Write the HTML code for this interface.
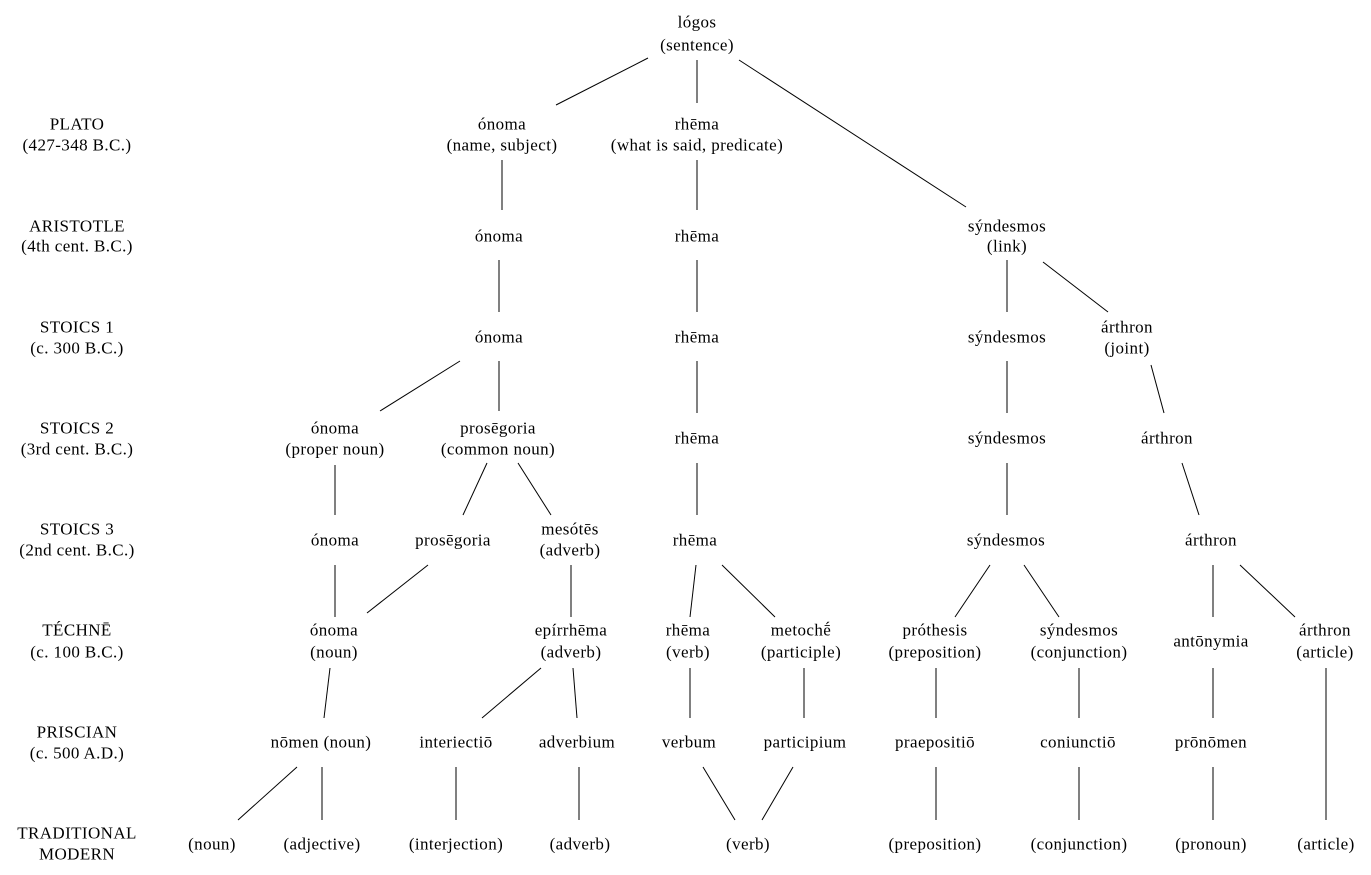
<!DOCTYPE html>
<html><head><meta charset="utf-8"><style>
html,body{margin:0;padding:0;background:#fff;}
svg{display:block;}
text{font-family:"Liberation Serif",serif;font-size:17px;letter-spacing:0.4px;fill:#000;text-anchor:middle;dominant-baseline:central;}
line{stroke:#000;stroke-width:1;}
</style></head><body>
<svg width="1371" height="875" viewBox="0 0 1371 875" xmlns="http://www.w3.org/2000/svg">
<g>
<line x1="648" y1="58" x2="556" y2="105"/>
<line x1="697" y1="60" x2="697" y2="103"/>
<line x1="739" y1="60" x2="966" y2="207"/>
<line x1="502" y1="160" x2="502" y2="210"/>
<line x1="697" y1="160" x2="697" y2="210"/>
<line x1="499" y1="260" x2="499" y2="312"/>
<line x1="697" y1="260" x2="697" y2="312"/>
<line x1="1007" y1="260" x2="1007" y2="312"/>
<line x1="1043" y1="262" x2="1108" y2="312"/>
<line x1="460" y1="361" x2="380" y2="411"/>
<line x1="499" y1="361" x2="499" y2="411"/>
<line x1="697" y1="361" x2="697" y2="413"/>
<line x1="1007" y1="361" x2="1007" y2="413"/>
<line x1="1151" y1="365" x2="1164" y2="413"/>
<line x1="335" y1="465" x2="335" y2="515"/>
<line x1="487" y1="463" x2="463" y2="515"/>
<line x1="518" y1="463" x2="551" y2="515"/>
<line x1="697" y1="463" x2="697" y2="515"/>
<line x1="1007" y1="463" x2="1007" y2="515"/>
<line x1="1182" y1="463" x2="1199" y2="515"/>
<line x1="335" y1="565" x2="335" y2="617"/>
<line x1="428" y1="565" x2="367" y2="613"/>
<line x1="571" y1="565" x2="571" y2="617"/>
<line x1="696" y1="565" x2="690" y2="617"/>
<line x1="722" y1="565" x2="775" y2="617"/>
<line x1="990" y1="565" x2="955" y2="617"/>
<line x1="1024" y1="565" x2="1059" y2="617"/>
<line x1="1213" y1="565" x2="1213" y2="617"/>
<line x1="1240" y1="565" x2="1295" y2="617"/>
<line x1="330" y1="668" x2="324" y2="718"/>
<line x1="541" y1="668" x2="482" y2="718"/>
<line x1="573" y1="668" x2="577" y2="718"/>
<line x1="690" y1="668" x2="690" y2="718"/>
<line x1="804" y1="668" x2="804" y2="718"/>
<line x1="936" y1="668" x2="936" y2="718"/>
<line x1="1079" y1="668" x2="1079" y2="718"/>
<line x1="1213" y1="668" x2="1213" y2="718"/>
<line x1="1326" y1="668" x2="1326" y2="820"/>
<line x1="297" y1="767" x2="238" y2="820"/>
<line x1="322" y1="767" x2="322" y2="820"/>
<line x1="456" y1="767" x2="456" y2="820"/>
<line x1="579" y1="767" x2="579" y2="820"/>
<line x1="703" y1="767" x2="735" y2="820"/>
<line x1="793" y1="767" x2="762" y2="820"/>
<line x1="936" y1="767" x2="936" y2="820"/>
<line x1="1079" y1="767" x2="1079" y2="820"/>
<line x1="1213" y1="767" x2="1213" y2="820"/>
</g>
<g>
<text x="77" y="124">PLATO</text><text x="77" y="145">(427-348 B.C.)</text>
<text x="77" y="226">ARISTOTLE</text><text x="77" y="246">(4th cent. B.C.)</text>
<text x="77" y="327">STOICS 1</text><text x="77" y="348">(c. 300 B.C.)</text>
<text x="77" y="428">STOICS 2</text><text x="77" y="449">(3rd cent. B.C.)</text>
<text x="77" y="529">STOICS 3</text><text x="77" y="550">(2nd cent. B.C.)</text>
<text x="77" y="630">TÉCHNĒ</text><text x="77" y="652">(c. 100 B.C.)</text>
<text x="77" y="732">PRISCIAN</text><text x="77" y="753">(c. 500 A.D.)</text>
<text x="77" y="833">TRADITIONAL</text><text x="77" y="854">MODERN</text>

<text x="697" y="22">lógos</text><text x="697" y="45">(sentence)</text>

<text x="502" y="124">ónoma</text><text x="502" y="145">(name, subject)</text>
<text x="697" y="124">rhēma</text><text x="697" y="145">(what is said, predicate)</text>

<text x="499" y="236">ónoma</text>
<text x="697" y="236">rhēma</text>
<text x="1007" y="226">sýndesmos</text><text x="1007" y="246">(link)</text>

<text x="499" y="337">ónoma</text>
<text x="697" y="337">rhēma</text>
<text x="1007" y="337">sýndesmos</text>
<text x="1127" y="327">árthron</text><text x="1127" y="348">(joint)</text>

<text x="335" y="428">ónoma</text><text x="335" y="449">(proper noun)</text>
<text x="498" y="428">prosēgoria</text><text x="498" y="449">(common noun)</text>
<text x="697" y="438">rhēma</text>
<text x="1007" y="438">sýndesmos</text>
<text x="1167" y="438">árthron</text>

<text x="335" y="540">ónoma</text>
<text x="453" y="540">prosēgoria</text>
<text x="570" y="529">mesótēs</text><text x="570" y="550">(adverb)</text>
<text x="695" y="540">rhēma</text>
<text x="1006" y="540">sýndesmos</text>
<text x="1211" y="540">árthron</text>

<text x="334" y="630">ónoma</text><text x="334" y="652">(noun)</text>
<text x="571" y="630">epírrhēma</text><text x="571" y="652">(adverb)</text>
<text x="688" y="630">rhēma</text><text x="688" y="652">(verb)</text>
<text x="801" y="630">metochḗ</text><text x="801" y="652">(participle)</text>
<text x="935" y="630">próthesis</text><text x="935" y="652">(preposition)</text>
<text x="1079" y="630">sýndesmos</text><text x="1079" y="652">(conjunction)</text>
<text x="1211" y="641">antōnymia</text>
<text x="1325" y="630">árthron</text><text x="1325" y="652">(article)</text>

<text x="321" y="742">nōmen (noun)</text>
<text x="456" y="742">interiectiō</text>
<text x="577" y="742">adverbium</text>
<text x="689" y="742">verbum</text>
<text x="805" y="742">participium</text>
<text x="935" y="742">praepositiō</text>
<text x="1078" y="742">coniunctiō</text>
<text x="1211" y="742">prōnōmen</text>

<text x="212" y="844">(noun)</text>
<text x="322" y="844">(adjective)</text>
<text x="456" y="844">(interjection)</text>
<text x="580" y="844">(adverb)</text>
<text x="748" y="844">(verb)</text>
<text x="935" y="844">(preposition)</text>
<text x="1079" y="844">(conjunction)</text>
<text x="1211" y="844">(pronoun)</text>
<text x="1326" y="844">(article)</text>
</g>
</svg>
</body></html>
